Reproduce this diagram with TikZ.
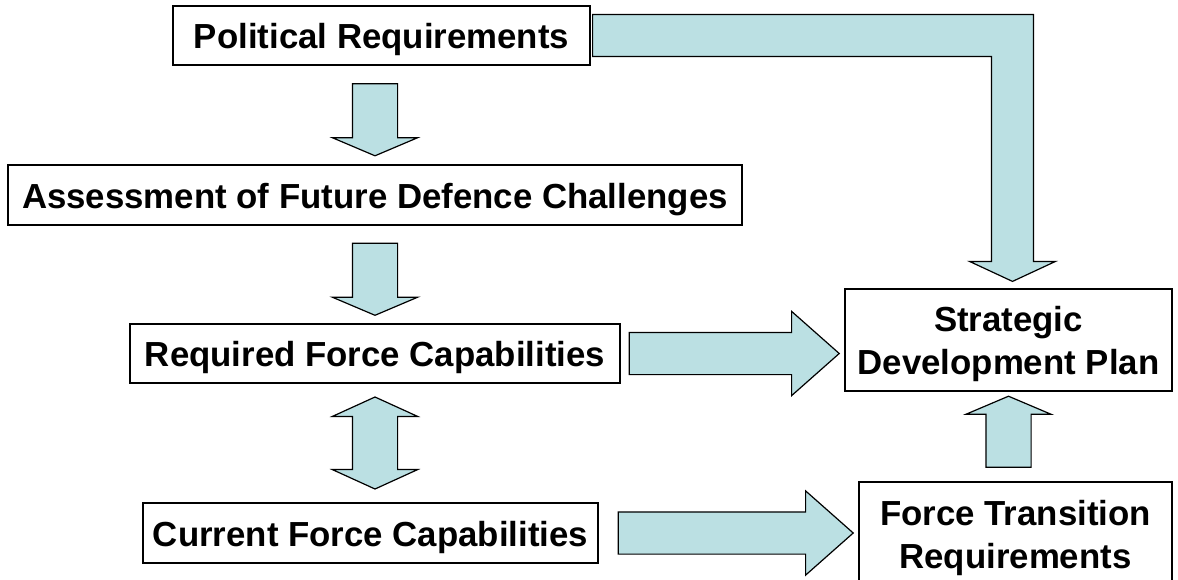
\documentclass[tikz,border=0pt]{standalone}
\usepackage{fontspec}
\setmainfont{Liberation Sans}
\usetikzlibrary{shapes.arrows,positioning,calc}
\definecolor{paleteal}{RGB}{187,224,227}

\begin{document}
\begin{tikzpicture}[
  x=1pt,y=-1pt,
  box/.style={draw=black,fill=white,line width=1.2pt,inner sep=0pt,
              text height=34pt,text depth=7.4pt,
              align=center,font=\fontsize{34.8}{43}\selectfont\bfseries},
  twoline/.style={text height=77pt},
  fatdown/.style={single arrow,draw=black,fill=paleteal,line width=1.2pt,
              inner xsep=0pt,inner ysep=22pt,minimum width=84pt,
              single arrow head extend=20pt,single arrow tip angle=134},
  fatside/.style={single arrow,draw=black,fill=paleteal,line width=1.2pt,
              inner xsep=0pt,inner ysep=20.5pt,minimum width=83pt,
              single arrow head extend=21pt,single arrow tip angle=83},
  fatdbl/.style={double arrow,draw=black,fill=paleteal,line width=1.2pt,
              inner xsep=0pt,inner ysep=22pt,minimum width=84pt,
              double arrow head extend=20pt,double arrow tip angle=131},
  bent/.style={draw=black,fill=paleteal,line width=1.2pt}
]
\useasboundingbox (0,0) rectangle (1178,579);

%% -- boxes --
\node[box,minimum width=417pt,minimum height=59pt] (pol) at (381.5,35.5)
  {Political Requirements};
\node[box,minimum width=734pt,minimum height=60pt] (ass) at (375,195)
  {Assessment of Future Defence Challenges};
\node[box,minimum width=490pt,minimum height=59pt] (req) at (375,353.5)
  {Required Force Capabilities};
\node[box,minimum width=455pt,minimum height=60pt] (cur) at (370.5,533)
  {Current Force Capabilities};
\node[box,twoline,minimum width=327pt,minimum height=102pt] (sdp) at (1008.5,340)
  {Strategic\\Development Plan};
\node[box,twoline,minimum width=313pt,minimum height=104pt] (ftr) at (1015.5,534)
  {Force Transition\\Requirements};

%% -- left column block arrows --
\node[fatdown,rotate=-90,minimum height=72pt] (pol2ass)
  at ($(ass.north)!0.5!(ass.north |- pol.south)$) {};
\node[fatdown,rotate=-90,minimum height=72pt] (ass2req)
  at ($(req.north)!0.5!(req.north |- ass.south)$) {};
\node[fatdbl,rotate=90,minimum height=92pt] (req2cur)
  at ($(req.south)!0.5!(req.south |- cur.north)$) {};

%% -- arrows into the right column --
\node[fatside,minimum height=210pt,right=8pt of req] (req2sdp) {};
\node[fatside,minimum height=235pt,right=19pt of cur] (cur2ftr) {};
\node[fatdown,rotate=90,minimum height=71pt] (ftr2sdp)
  at ($(sdp.south)!0.5!(sdp.south |- ftr.north)$) {};

%% -- bent arrow: political requirements -> plan --
\coordinate (bend0) at ($(pol.east)+(2,0)$);
\coordinate (bendtip) at ($(sdp.north)+(4,-7)$);
\draw[bent] ($(bend0)+(0,-21)$) -- ($(bend0 -| bendtip)+(21,-21)$)
  -- ($(bendtip)+(21,-20)$) -- ($(bendtip)+(43,-20)$) -- (bendtip)
  -- ($(bendtip)+(-43,-20)$) -- ($(bendtip)+(-21,-20)$)
  -- ($(bend0 -| bendtip)+(-21,21)$) -- ($(bend0)+(0,21)$) -- cycle;

\end{tikzpicture}
\end{document}
